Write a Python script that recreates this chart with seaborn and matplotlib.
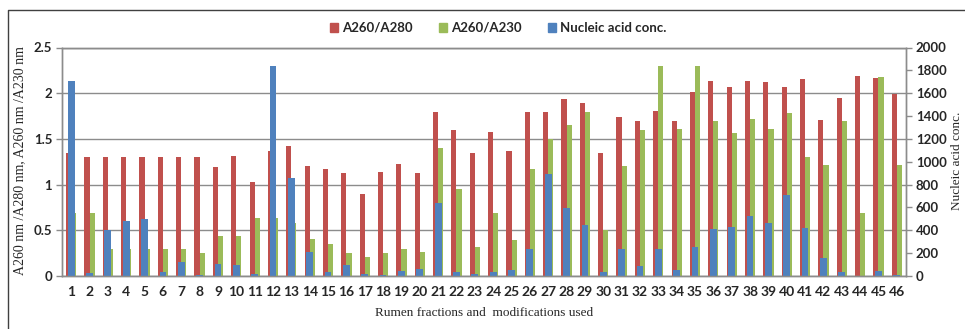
import numpy as np
import pandas as pd
import seaborn as sns
import matplotlib.pyplot as plt
from matplotlib.patches import Patch
from matplotlib.lines import Line2D

# Fraktionen 1..46
fractions = [str(i) for i in range(1, 47)]

a260_a280 = [1.35, 1.30, 1.30, 1.30, 1.30, 1.30, 1.30, 1.30, 1.19, 1.31,
             1.03, 1.37, 1.42, 1.20, 1.17, 1.13, 0.90, 1.14, 1.23, 1.13,
             1.79, 1.60, 1.35, 1.58, 1.37, 1.79, 1.79, 1.94, 1.89, 1.35,
             1.74, 1.70, 1.80, 1.70, 2.01, 2.13, 2.07, 2.13, 2.12, 2.07,
             2.15, 1.71, 1.95, 2.19, 2.17, 1.99]

a260_a230 = [0.69, 0.69, 0.29, 0.29, 0.29, 0.29, 0.29, 0.25, 0.44, 0.44,
             0.63, 0.63, 0.58, 0.41, 0.35, 0.25, 0.21, 0.25, 0.30, 0.26,
             1.40, 0.95, 0.32, 0.69, 0.39, 1.17, 1.50, 1.65, 1.79, 0.50,
             1.20, 1.60, 2.30, 1.61, 2.30, 1.70, 1.56, 1.72, 1.61, 1.78,
             1.30, 1.21, 1.70, 0.69, 2.18, 1.21]

nucleic_conc = [1708, 25, 403, 482, 500, 35, 123, 12, 102, 93,
                20, 1842, 855, 207, 32, 99, 20, 12, 44, 61,
                639, 32, 20, 32, 53, 236, 891, 593, 447, 32,
                236, 90, 236, 52, 256, 408, 431, 524, 460, 707,
                418, 160, 32, 3, 44, 12]

red = "#C0504D"
green = "#9BBB59"
blue = "#4F81BD"
grau = "#8C8C8C"

sns.set_style("white")
plt.rcParams['font.family'] = ['Lato', 'DejaVu Sans']

df = pd.DataFrame({
    "fraction": fractions * 2,
    "ratio": a260_a280 + a260_a230,
    "series": ["A260/A280"] * 46 + ["A260/A230"] * 46,
})

fig = plt.figure(figsize=(9.65, 3.29), dpi=100)
ax = fig.add_axes([62 / 965, 53 / 329, 844 / 965, 228.5 / 329])

sns.barplot(data=df, x="fraction", y="ratio", hue="series",
            palette=[red, green], width=0.56, gap=0, saturation=1,
            legend=False, linewidth=0, edgecolor="none", ax=ax)

ax2 = ax.twinx()
sns.barplot(x=fractions, y=nucleic_conc, color=blue, width=0.37,
            saturation=1, linewidth=0, edgecolor="none", ax=ax2)

# Achsen
ax.set_xlim(-0.5, 45.5)
ax.set_ylim(0, 2.5)
ax.set_yticks(np.arange(0, 2.51, 0.5))
ax.set_yticklabels(["0", "0.5", "1", "1.5", "2", "2.5"])
ax2.set_ylim(0, 2000)
ax2.set_yticks(range(0, 2001, 200))

ax.set_xticks(range(46))
ax.set_xticklabels(fractions)
ax.set_xticks(np.arange(-0.5, 46, 1), minor=True)
ax.tick_params(axis="x", which="major", length=0, pad=7, labelsize=10)
ax.tick_params(axis="x", which="minor", length=4, color=grau, width=1)
ax.tick_params(axis="y", length=4, color=grau, width=1, pad=3, labelsize=9.5)
ax2.tick_params(axis="y", length=4, color=grau, width=1, pad=3, labelsize=9.5)
for lab in ax.get_xticklabels() + ax.get_yticklabels() + ax2.get_yticklabels():
    lab.set_fontweight("bold")

ax.yaxis.grid(True, color=grau, lw=1)
ax.set_axisbelow(True)
ax2.grid(False)
for a in (ax, ax2):
    for sp in a.spines.values():
        sp.set_color(grau)
        sp.set_linewidth(1)

ax.set_xlabel("")
ax.set_ylabel("")
ax2.set_ylabel("")

serif = ['Liberation Serif', 'DejaVu Serif']
fig.text(484 / 965, (329 - 313) / 329, "Rumen fractions and  modifications used",
         ha="center", va="center", fontsize=9.5, family=serif)
fig.text(20 / 965, (329 - 161) / 329, "A260 nm /A280 nm, A260 nm /A230 nm",
         ha="center", va="center", rotation=90, fontsize=10, family=serif)
fig.text(957 / 965, (329 - 161) / 329, "Nucleic acid conc.",
         ha="center", va="center", rotation=90, fontsize=9.5, family=serif)

handles = [Patch(color=red, label="A260/A280"),
           Patch(color=green, label="A260/A230"),
           Patch(color=blue, label="Nucleic acid conc.")]
fig.legend(handles=handles, loc="center", bbox_to_anchor=(0.516, 0.915),
           ncol=3, frameon=False, handlelength=0.6, handleheight=0.6,
           handletextpad=0.3, columnspacing=2.0,
           prop={"weight": "bold", "size": 9.5})

# Rahmen links und oben
fig.add_artist(Line2D([8 / 965, 8 / 965, 1], [0, 1 - 10 / 329, 1 - 10 / 329],
                      transform=fig.transFigure, color="#404040", lw=1))

plt.savefig("out.png", dpi=100)
plt.close()
